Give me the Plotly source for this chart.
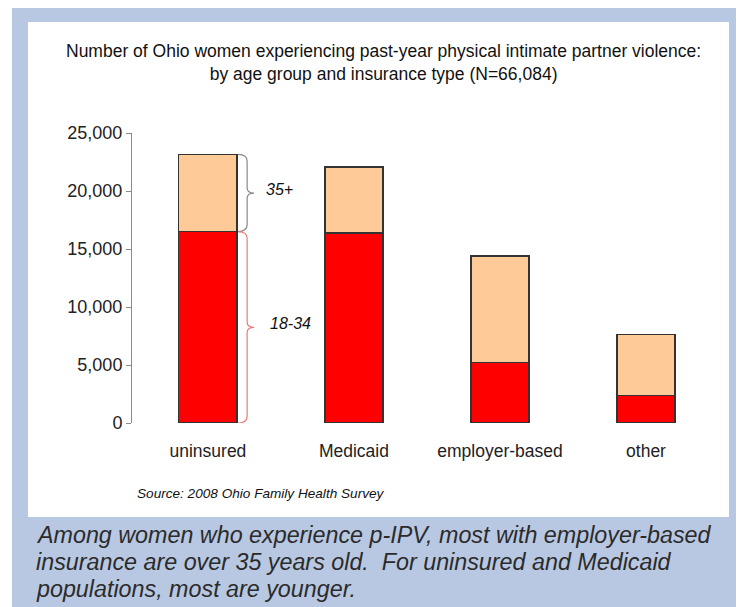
import plotly.graph_objects as go

# ---- data ----
categories = ["uninsured", "Medicaid", "employer-based", "other"]
age_18_34 = [16500, 16400, 5230, 2350]
age_35_plus = [6650, 5650, 9170, 5300]
y_ticks = [0, 5000, 10000, 15000, 20000, 25000]

title_text = ("Number of Ohio women experiencing past-year physical intimate partner violence:"
              "<br>by age group and insurance type (N=66,084)")
source_text = "Source: 2008 Ohio Family Health Survey"
caption_lines = [
    "Among women who experience p-IPV, most with employer-based",
    "insurance are over 35 years old.  For uninsured and Medicaid",
    "populations, most are younger.",
]

# ---- layout geometry (page pixels; page body has an 8px margin) ----
OFF = 8
W, H = 744 - OFF, 607 - OFF
L, R, T, B = 132 - OFF, 719 - OFF, 133 - OFF, 423 - OFF
FONT = "Liberation Sans, Arial, sans-serif"


def px_x(px):
    return (px - OFF - L) / (R - L)


def px_y(py):
    return (B - (py - OFF)) / (B - T)


x_idx = list(range(len(categories)))
bar_w = 0.4

fig = go.Figure()
fig.add_trace(go.Bar(
    x=x_idx, y=age_18_34, width=bar_w, name="18-34",
    marker=dict(color="#ff0000", line=dict(color="#333333", width=1.5)),
))
fig.add_trace(go.Bar(
    x=x_idx, y=age_35_plus, width=bar_w, name="35+",
    marker=dict(color="#fdca98", line=dict(color="#333333", width=1.5)),
))

shapes = [
    dict(type="rect", xref="paper", yref="paper", layer="below",
         x0=px_x(12), x1=px_x(760), y0=px_y(620), y1=px_y(6),
         fillcolor="#b8c8e2", line=dict(width=0)),
    dict(type="rect", xref="paper", yref="paper", layer="below",
         x0=px_x(28), x1=px_x(729), y0=px_y(517), y1=px_y(22),
         fillcolor="#ffffff", line=dict(width=0)),
]

# braces next to the first bar, built from its values
ux = 1.0 / 146.0      # data units per pixel (x)
uy = 25000 / (B - T)  # data units per pixel (y)


def brace(y_lo, y_hi, color):
    x0 = x_idx[0] + bar_w / 2 + 1 * ux
    x1 = x0 + 9 * ux
    x2 = x1 + 7 * ux
    ym = (y_lo + y_hi) / 2
    r = 7 * uy
    rm = 5 * uy
    path = (f"M {x0},{y_hi} Q {x1},{y_hi} {x1},{y_hi - r} "
            f"L {x1},{ym + rm} Q {x1},{ym} {x2},{ym} "
            f"Q {x1},{ym} {x1},{ym - rm} "
            f"L {x1},{y_lo + r} Q {x1},{y_lo} {x0},{y_lo}")
    return dict(type="path", xref="x", yref="y", path=path,
                line=dict(color=color, width=1.2)), x2, ym


s1, bx1, bm1 = brace(age_18_34[0], age_18_34[0] + age_35_plus[0], "#888888")
s2, bx2, bm2 = brace(0, age_18_34[0], "#ec7a7a")
shapes += [s1, s2]

annotations = [
    dict(text=title_text, xref="paper", yref="paper", x=px_x(383), y=px_y(62),
         xanchor="center", yanchor="middle", showarrow=False,
         font=dict(family=FONT, size=17.5, color="#111111")),
    dict(text="<i>35+</i>", xref="x", yref="y", x=bx1 + 10 * ux, y=bm1,
         xanchor="left", yanchor="middle", yshift=4, showarrow=False,
         font=dict(family=FONT, size=16, color="#111111")),
    dict(text="<i>18-34</i>", xref="x", yref="y", x=bx2 + 14 * ux, y=bm2,
         xanchor="left", yanchor="middle", yshift=4, showarrow=False,
         font=dict(family=FONT, size=16, color="#111111")),
    dict(text="<i>" + source_text + "</i>", xref="paper", yref="paper",
         x=px_x(135), y=px_y(493), xanchor="left", yanchor="middle",
         showarrow=False, font=dict(family=FONT, size=13.6, color="#111111")),
]
for i, line in enumerate(caption_lines):
    annotations.append(dict(
        text="<i>" + line + "</i>", xref="paper", yref="paper",
        x=px_x(34), y=px_y(535 + 27 * i), xanchor="left", yanchor="middle",
        showarrow=False, font=dict(family=FONT, size=23.3, color="#2b2b2b")))

fig.update_layout(
    width=W, height=H, autosize=False,
    margin=dict(l=L, r=W - R, t=T, b=H - B, pad=0),
    paper_bgcolor="#ffffff", plot_bgcolor="rgba(0,0,0,0)",
    barmode="stack", showlegend=False,
    shapes=shapes, annotations=annotations,
    font=dict(family=FONT),
    xaxis=dict(range=[-0.52, 3.5], tickvals=x_idx, ticktext=categories,
               showline=False, showgrid=False, zeroline=False, ticks="",
               tickfont=dict(family=FONT, size=17.5, color="#222222"),
               ticklabelstandoff=15),
    yaxis=dict(range=[0, 25000], tickvals=y_ticks, tickformat=",",
               showline=True, linecolor="#8a8a8a", linewidth=1,
               ticks="outside", ticklen=5, tickcolor="#8a8a8a",
               showgrid=False, zeroline=False,
               tickfont=dict(family=FONT, size=18, color="#222222")),
)

fig.write_html("out.html")
